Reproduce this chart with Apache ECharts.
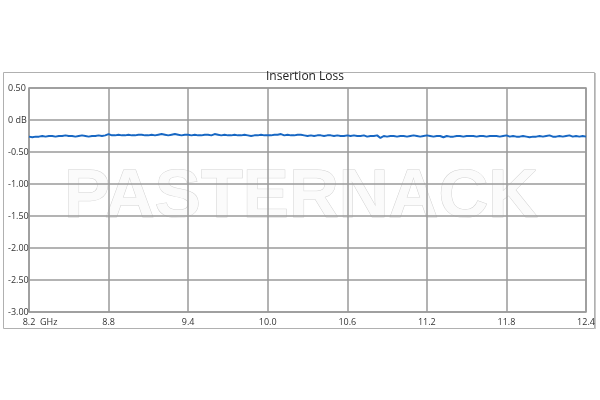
<!DOCTYPE html>
<html><head><meta charset="utf-8">
<script src="https://cdn.jsdelivr.net/npm/echarts@6/dist/echarts.min.js"></script>
<style>html,body{margin:0;padding:0;background:#fff}#c{width:600px;height:400px}</style>
</head><body><div id="c"></div>
<script>
const chartTitle = "Insertion Loss";
const freqStart = 8.2;   // GHz
const freqStep = 0.025;  // GHz between sweep points
const lossDb = [
-0.26,-0.27,-0.26,-0.26,-0.25,-0.26,-0.25,-0.25,-0.26,-0.25,-0.25,-0.24,-0.25,-0.25,-0.26,-0.25,-0.24,-0.25,-0.26,-0.25,-0.25,-0.24,-0.25,-0.24,-0.22,
-0.24,-0.24,-0.23,-0.24,-0.24,-0.23,-0.24,-0.24,-0.23,-0.23,-0.24,-0.24,-0.23,-0.24,-0.23,-0.22,-0.23,-0.24,-0.23,-0.22,-0.23,-0.24,-0.23,-0.23,
-0.24,-0.23,-0.24,-0.24,-0.23,-0.23,-0.24,-0.22,-0.23,-0.24,-0.23,-0.24,-0.24,-0.23,-0.24,-0.24,-0.23,-0.24,-0.25,-0.24,-0.24,-0.23,-0.24,-0.24,
-0.24,-0.23,-0.23,-0.22,-0.24,-0.23,-0.24,-0.24,-0.23,-0.23,-0.24,-0.25,-0.24,-0.25,-0.24,-0.24,-0.25,-0.24,-0.24,-0.25,-0.24,-0.25,-0.25,-0.24,
-0.25,-0.24,-0.25,-0.25,-0.24,-0.26,-0.25,-0.25,-0.24,-0.28,-0.25,-0.26,-0.25,-0.25,-0.26,-0.25,-0.25,-0.26,-0.25,-0.24,-0.25,-0.26,-0.25,-0.24,
-0.25,-0.26,-0.25,-0.25,-0.27,-0.25,-0.26,-0.26,-0.25,-0.25,-0.26,-0.25,-0.25,-0.25,-0.26,-0.25,-0.25,-0.26,-0.25,-0.25,-0.25,-0.26,-0.25,-0.24,
-0.26,-0.25,-0.26,-0.26,-0.25,-0.26,-0.27,-0.26,-0.26,-0.25,-0.26,-0.25,-0.24,-0.26,-0.26,-0.25,-0.26,-0.25,-0.24,-0.26,-0.25,-0.26,-0.25,-0.26
];
const xMin = 8.2, xMax = 12.4, xInterval = 0.6;
const yMin = -3.0, yMax = 0.5, yInterval = 0.5;
const xUnit = "GHz";
const watermark = "PASTERNACK";

const seriesData = lossDb.map((v, i) => [+(freqStart + i * freqStep).toFixed(3), v]);

const chart = echarts.init(document.getElementById('c'), null, {renderer: 'canvas'});
const gridColor = '#9a9a9a';
chart.setOption({
  animation: false,
  backgroundColor: '#fff',
  title: {
    text: chartTitle, left: 305, top: 71, textAlign: 'center', padding: 0,
    textStyle: {fontFamily: 'Open Sans', fontWeight: 'normal', fontSize: 12, color: '#222'}
  },
  graphic: [
    {type: 'rect', z: -10, shape: {x: 3.5, y: 72.5, width: 591, height: 256},
     style: {fill: '#fff', stroke: '#b0b0b0', lineWidth: 1}},
    {type: 'line', z: -10, shape: {x1: 595.5, y1: 73, x2: 595.5, y2: 329}, style: {stroke: '#c8c8c8', lineWidth: 1}},
    {type: 'text', z: -5, x: 301, y: 198,
     style: {text: watermark, font: 'bold 69px "Liberation Sans"', fill: '#fbfbfb', stroke: '#d2d2d2', lineWidth: 1,
             textAlign: 'center', textVerticalAlign: 'middle'}},
    {type: 'text', x: 40, y: 322, z: 10,
     style: {text: xUnit, font: '9px "Open Sans"', fill: '#333', textVerticalAlign: 'middle'}}
  ],
  grid: {left: 29, right: 14, top: 88, bottom: 88, show: true, borderColor: gridColor, borderWidth: 1.5, backgroundColor: 'transparent'},
  xAxis: {
    type: 'value', min: xMin, max: xMax, interval: xInterval,
    axisLine: {show: false}, axisTick: {show: false},
    splitLine: {show: true, lineStyle: {color: gridColor, width: 1.5}},
    axisLabel: {fontFamily: 'Open Sans', fontSize: 9, color: '#333', margin: 6,
      formatter: v => (+v).toFixed(1), showMinLabel: true, showMaxLabel: true}
  },
  yAxis: {
    type: 'value', min: yMin, max: yMax, interval: yInterval,
    axisLine: {show: false}, axisTick: {show: false},
    splitLine: {show: true, lineStyle: {color: gridColor, width: 1.5}},
    axisLabel: {fontFamily: 'Open Sans', fontSize: 9, color: '#333', align: 'left', margin: 21,
      formatter: v => Math.abs(v) < 1e-9 ? '0 dB' : (+v).toFixed(2)}
  },
  series: [{
    type: 'line', data: seriesData, showSymbol: false, smooth: false,
    lineStyle: {color: '#1767c3', width: 2}, z: 5
  }]
});
</script></body></html>
